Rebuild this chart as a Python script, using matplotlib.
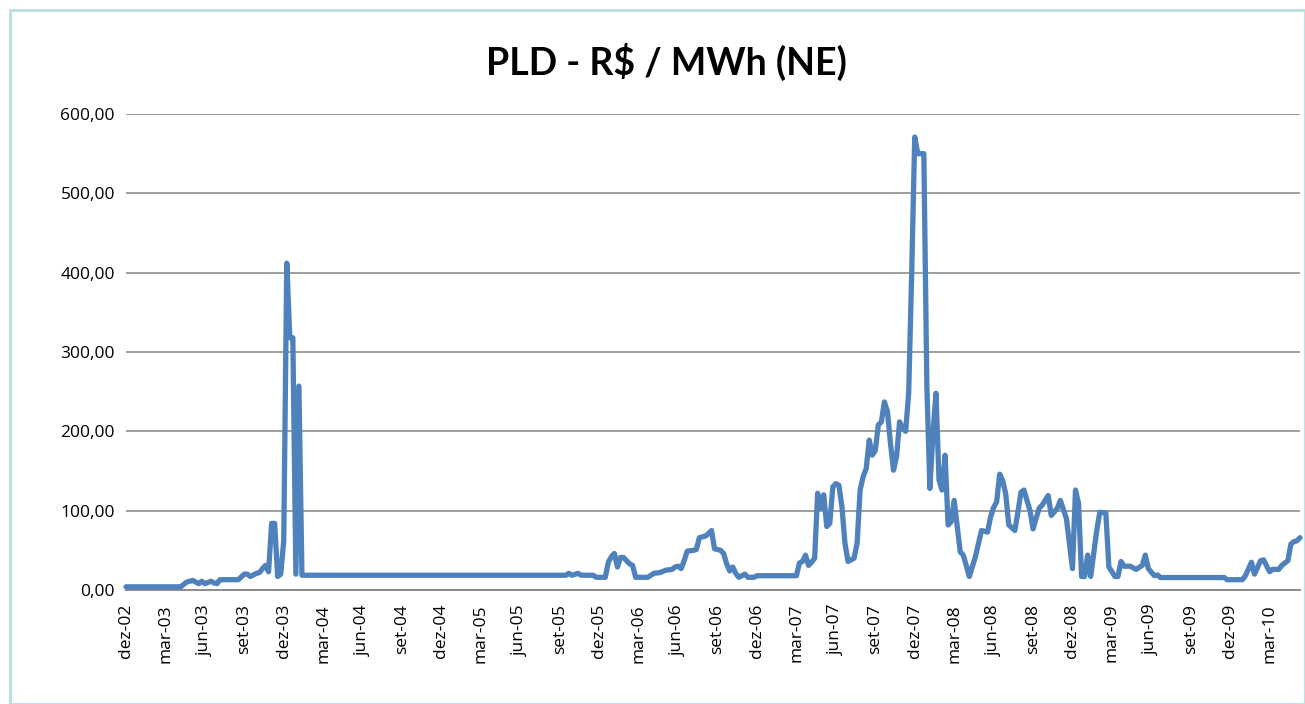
import matplotlib
matplotlib.use("Agg")
import matplotlib.pyplot as plt
from matplotlib.patches import Rectangle

# semanas desde o inicio da serie (dez-02) e PLD semanal do submercado NE
semana = [0, 18, 20, 22, 24, 25, 26, 28, 29, 30, 31, 37, 39, 40, 41, 43, 44, 45,
          46, 47, 48, 49, 50, 51, 52, 53, 54, 55, 56, 57, 58,
          145, 146, 147, 149, 150, 154, 155, 158, 159, 160, 161, 162, 163, 164,
          166, 167, 168, 172, 174, 176, 178, 180, 181, 182, 183, 184, 185, 187,
          188, 189, 191, 192, 193, 194, 196, 197, 198, 199, 200, 201, 202, 204,
          205, 207, 208, 221, 222, 223, 224, 225, 226, 227, 228, 229, 230, 231,
          232, 233, 234, 235, 236, 237, 238, 240, 241, 242, 243, 244, 245, 246,
          247, 248, 249, 250, 251, 252, 253, 254, 255, 256, 257, 258, 259, 260,
          261, 262, 263, 264, 265, 266, 267, 268, 269, 270, 271, 272, 273, 275,
          276, 278, 280, 282, 284, 285, 286, 287, 288, 289, 290, 291, 293, 294,
          295, 296, 298, 299, 301, 302, 304, 305, 307, 308, 310, 311, 312, 313,
          314, 315, 316, 317, 318, 320, 321, 323, 324, 326, 327, 328, 329, 331,
          333, 335, 336, 337, 339, 340, 341, 362, 363, 368, 369, 371, 372, 374,
          375, 377, 378, 380, 381, 383, 384, 385, 386, 387]
pld = [4, 4, 10, 12, 8, 11, 8, 11, 9, 8, 13, 13, 20, 20, 17, 21, 22, 27,
       31, 23, 84, 84, 17, 20, 62, 412, 318, 318, 20, 257, 18.6,
       18.6, 21, 18.6, 21, 18.6, 18.6, 16, 16, 35, 42, 46, 29, 41, 41,
       33, 31, 16, 16, 21, 22, 25, 26, 29, 30, 27, 37, 49, 50,
       51, 66, 68, 71, 75, 52, 50, 46, 33, 24, 29, 21, 16, 20,
       16, 16, 18, 18, 34, 36, 44, 31, 35, 40, 122, 103, 120, 80,
       84, 130, 134, 132, 105, 59, 36, 40, 59, 126, 143, 153, 189, 170,
       176, 208, 212, 237, 225, 185, 151, 168, 212, 204, 200, 248, 400, 571,
       550, 550, 550, 256, 128, 197, 248, 139, 126, 170, 82, 86, 113, 48,
       44, 17, 42, 75, 73, 92, 104, 111, 146, 138, 121, 82, 75, 98,
       123, 126, 100, 77, 103, 107, 119, 94, 103, 113, 90, 59, 27, 126,
       109, 17, 17, 44, 17, 75, 98, 97, 29, 17, 17, 36, 30, 30,
       26, 31, 44, 27, 18, 19, 15.7, 15.7, 13, 13, 18, 35, 20, 37,
       38, 23, 26, 26, 31, 37, 58, 61, 62, 66]

rotulos = ['dez-02', 'mar-03', 'jun-03', 'set-03', 'dez-03', 'mar-04', 'jun-04',
           'set-04', 'dez-04', 'mar-05', 'jun-05', 'set-05', 'dez-05', 'mar-06',
           'jun-06', 'set-06', 'dez-06', 'mar-07', 'jun-07', 'set-07', 'dez-07',
           'mar-08', 'jun-08', 'set-08', 'dez-08', 'mar-09', 'jun-09', 'set-09',
           'dez-09', 'mar-10']
passo = 13  # um rotulo a cada 13 semanas
ultima_semana = 387

plt.rcParams['font.family'] = ['Open Sans', 'DejaVu Sans']

fig = plt.figure(figsize=(13.05, 7.04), dpi=100)
ax = fig.add_axes([126 / 1305, 1 - 590 / 704, (1300 - 126) / 1305, (590 - 114) / 704])

ax.plot(semana, pld, color='#4F81BD', lw=3.8, solid_joinstyle='round',
        solid_capstyle='round', zorder=3, clip_on=False)

ax.set_xlim(0, ultima_semana)
ax.set_ylim(0, 600)
ax.set_yticks(range(0, 601, 100))
ax.set_yticklabels([f'{v},00' for v in range(0, 601, 100)])
ax.set_xticks([i * passo for i in range(len(rotulos))])
ax.set_xticklabels(rotulos, rotation=90)

ax.grid(axis='y', color='#8C8C8C', lw=1.2)
ax.set_axisbelow(True)
for s in ['left', 'right', 'top']:
    ax.spines[s].set_visible(False)
ax.spines['bottom'].set_color('#8C8C8C')
ax.spines['bottom'].set_linewidth(1.4)
ax.tick_params(axis='both', length=0, labelsize=12.5, colors='black')
ax.tick_params(axis='x', pad=10)
ax.tick_params(axis='y', pad=8)

fig.text(0.511, 0.912, 'PLD - R$ / MWh (NE)', ha='center', va='center',
         fontsize=27, fontweight='bold', family=['Lato', 'DejaVu Sans'])

# moldura do grafico
fig.patches.append(Rectangle((10 / 1305, 0), 1 - 10 / 1305, 1 - 10 / 704,
                             transform=fig.transFigure, fill=False,
                             edgecolor='#B7DEE3', lw=2))

fig.savefig('out.png', dpi=100)
